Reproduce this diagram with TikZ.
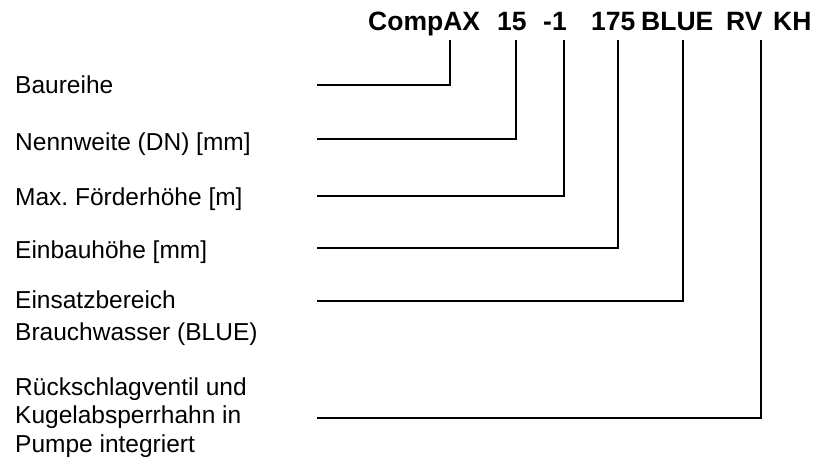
\documentclass[tikz,border=0pt]{standalone}
\usepackage{fontspec}
\setmainfont{Liberation Sans}
\usepackage{tikz}
\usetikzlibrary{positioning}

\begin{document}
\begin{tikzpicture}[
        x=1pt, y=-1pt,
        code/.style={anchor=base west, inner sep=0pt, font=\fontsize{26.5}{30}\selectfont\bfseries},
        label/.style={anchor=base west, inner sep=0pt, align=left, font=\fontsize{24.5}{28.5}\selectfont},
        lead/.style={draw=black, line width=1.2pt}
    ]
    \useasboundingbox (0,0) rectangle (827,466);

    % Type code
    \node[code] (cCompAX) at (368,30.5) {CompAX};
    \node[code] (c15) at (497,30.5) {15};
    \node[code] (cDH) at (543,30.5) {-1};
    \node[code] (c175) at (591,30.5) {175};
    \node[code] (cBLUE) at (641,30.5) {BLUE};
    \node[code] (cRV) at (726,30.5) {RV};
    \node[code] (cKH) at (773,30.5) {KH};

    % Labels (base = last line)
    \node[label] (lBau) at (15,93) {Baureihe};
    \node[label] (lDN) at (15,150) {Nennweite (DN) [mm]};
    \node[label] (lH) at (15,205) {Max.\ Förderhöhe [m]};
    \node[label] (lEin) at (15,258) {Einbauhöhe [mm]};
    \node[label] (lBlue) at (15,340) {Einsatzbereich\\[3pt]Brauchwasser (BLUE)};
    \node[label] (lRV) at (15,452) {Rückschlagventil und\\Kugelabsperrhahn in\\Pumpe integriert};

    % Leader lines
    \foreach \n/\y/\x in {Bau/85/450, DN/139/516, H/196/564, Ein/248/618, Blue/301/683, RV/418/761} {
        \coordinate (s\n) at (317,\y);
        \coordinate (t\n) at (\x,40);
        \draw[lead] (s\n) -| (t\n);
    }
\end{tikzpicture}
\end{document}
